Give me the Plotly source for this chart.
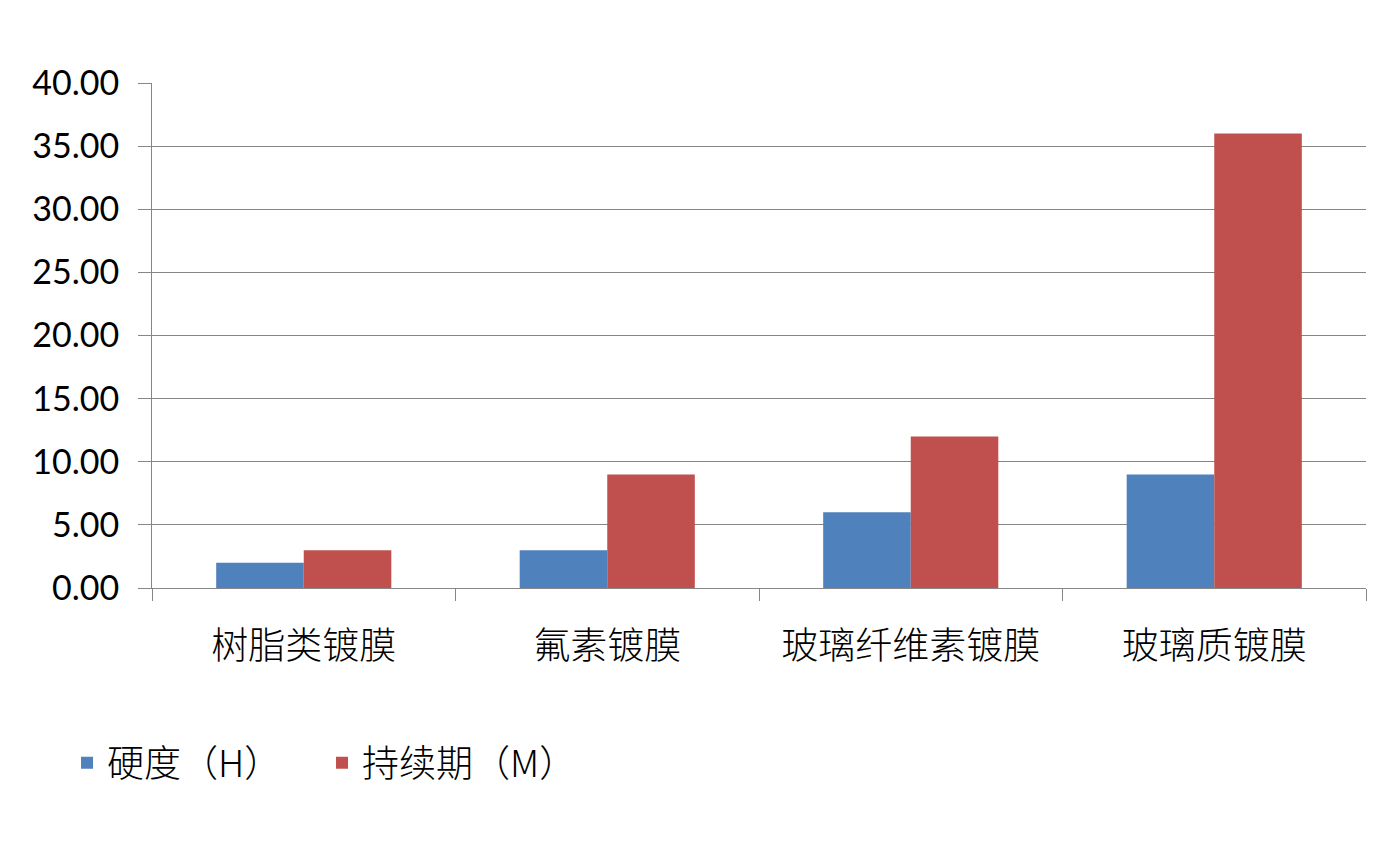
import plotly.graph_objects as go

categories = ["树脂类镀膜", "氟素镀膜", "玻璃纤维素镀膜", "玻璃质镀膜"]
hardness = [2, 3, 6, 9]
duration = [3, 9, 12, 36]
series_names = ["硬度（H）", "持续期（M）"]

cjk = "Noto Sans CJK SC"
fig = go.Figure()
fig.add_bar(x=categories, y=hardness, name=series_names[0], marker_color="#4F81BD",
            marker_line_width=0)
fig.add_bar(x=categories, y=duration, name=series_names[1], marker_color="#C0504D",
            marker_line_width=0)

fig.update_layout(
    width=1397, height=858,
    margin=dict(l=152, r=31, t=83, b=270),
    paper_bgcolor="white", plot_bgcolor="white",
    barmode="group", bargap=0.423, bargroupgap=0,
    font=dict(family=cjk, color="black"),
    legend=dict(orientation="h", x=-0.07, xanchor="left", y=-0.347, yanchor="middle",
                font=dict(size=37, family=cjk, weight=300), itemwidth=30,
                entrywidth=210, traceorder="normal"),
    xaxis=dict(showline=True, linecolor="#868686", linewidth=1,
               ticks="outside", ticklen=12, tickcolor="#868686", tickson="boundaries",
               tickfont=dict(size=37, family=cjk, weight=300), ticklabelstandoff=26,
               showgrid=False),
    yaxis=dict(range=[0, 40], dtick=5, tickformat=".2f",
               showline=True, linecolor="#868686", linewidth=1,
               ticks="outside", ticklen=13, tickcolor="#868686",
               showgrid=True, gridcolor="#868686", gridwidth=1,
               tickfont=dict(size=34, family="Lato"), ticklabelstandoff=12,
               zeroline=False),
)
fig.write_html("out.html")
